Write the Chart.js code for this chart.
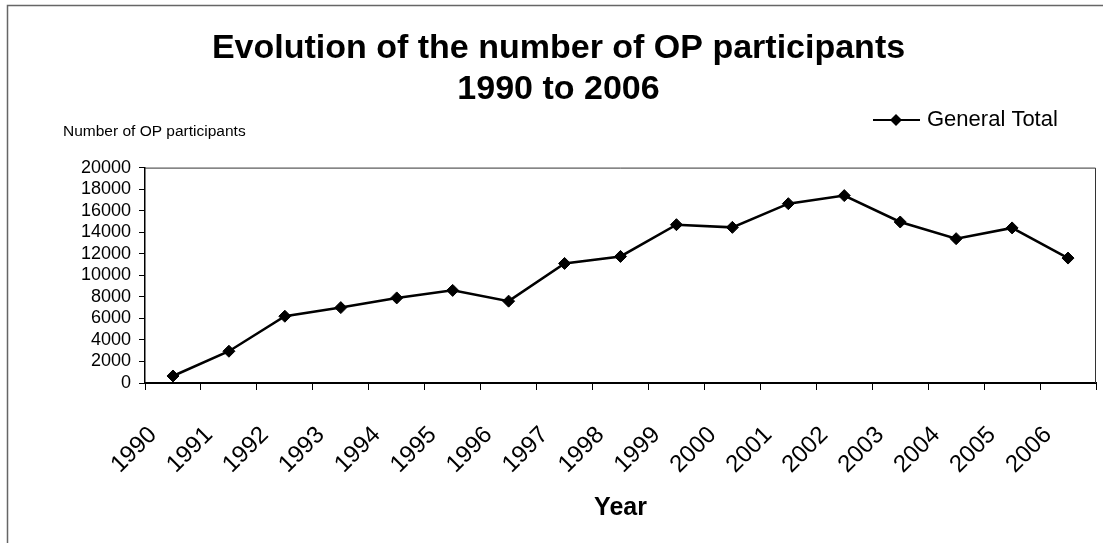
<!DOCTYPE html>
<html>
<head>
<meta charset="utf-8">
<script src="https://cdn.jsdelivr.net/npm/chart.js@4.4.1/dist/chart.umd.min.js"></script>
<style>
  html, body { margin: 0; padding: 0; background: #fff; }
</style>
</head>
<body>
<canvas id="op-participants-chart" width="1103" height="543"></canvas>
<script>
const years = ['1990', '1991', '1992', '1993', '1994', '1995', '1996', '1997', '1998',
               '1999', '2000', '2001', '2002', '2003', '2004', '2005', '2006'];
const generalTotal = [650, 2950, 6200, 7000, 7900, 8600, 7600, 11100, 11750,
                      14700, 14450, 16650, 17400, 14950, 13400, 14400, 11600];
const yMin = 0;
const yMax = 20000;
const yStep = 2000;

const FONT = '"Liberation Sans", Arial, sans-serif';
Chart.defaults.font.family = FONT;
Chart.defaults.color = '#000';

// frame, plot box, y caption and the legend (line + diamond)
const decor = {
    id: 'decor',
    beforeDraw(chart) {
        const ctx = chart.ctx;
        ctx.save();
        ctx.fillStyle = '#fff';
        ctx.fillRect(0, 0, chart.width, chart.height);
        ctx.restore();
    },
    afterDraw(chart) {
        const ctx = chart.ctx;
        const a = chart.chartArea;
        ctx.save();

        // outer frame, left and top
        ctx.strokeStyle = '#666';
        ctx.lineWidth = 1.5;
        ctx.beginPath();
        ctx.moveTo(7.5, chart.height);
        ctx.lineTo(7.5, 5.5);
        ctx.lineTo(chart.width, 5.5);
        ctx.stroke();

        // plot box top and right
        ctx.strokeStyle = '#333';
        ctx.lineWidth = 1;
        ctx.beginPath();
        ctx.moveTo(a.left, a.top + 0.5);
        ctx.lineTo(a.right - 0.5, a.top + 0.5);
        ctx.lineTo(a.right - 0.5, a.bottom);
        ctx.stroke();

        // y axis caption
        ctx.fillStyle = '#000';
        ctx.font = '15.5px ' + FONT;
        ctx.textAlign = 'left';
        ctx.textBaseline = 'middle';
        ctx.fillText('Number of OP participants', 63, 132);

        // legend
        const ds = chart.data.datasets[0];
        const ly = 120;
        const lx = a.right - 223;
        ctx.strokeStyle = ds.borderColor;
        ctx.lineWidth = 2;
        ctx.beginPath();
        ctx.moveTo(lx, ly);
        ctx.lineTo(lx + 47, ly);
        ctx.stroke();
        ctx.fillStyle = ds.backgroundColor;
        ctx.beginPath();
        ctx.moveTo(lx + 23, ly - 6);
        ctx.lineTo(lx + 29, ly);
        ctx.lineTo(lx + 23, ly + 6);
        ctx.lineTo(lx + 17, ly);
        ctx.closePath();
        ctx.fill();
        ctx.fillStyle = '#000';
        ctx.font = '22px ' + FONT;
        ctx.fillText(ds.label, lx + 54, ly);

        ctx.restore();
    }
};

new Chart(
    document.getElementById('op-participants-chart'),
    {
        type: 'line',
        data: {
            labels: years,
            datasets: [
                {
                    label: 'General Total',
                    data: generalTotal,
                    borderColor: '#000',
                    backgroundColor: '#000',
                    borderWidth: 2.5,
                    pointStyle: 'rectRot',
                    pointRadius: 6,
                    pointBackgroundColor: '#000',
                    pointBorderColor: '#000',
                    pointBorderWidth: 1,
                    tension: 0
                }
            ]
        },
        options: {
            responsive: false,
            animation: false,
            devicePixelRatio: 1,
            layout: {
                padding: { left: 20, right: 6, top: 0, bottom: 8 }
            },
            plugins: {
                legend: { display: false },
                tooltip: { enabled: false },
                title: {
                    display: true,
                    text: ['Evolution of the number of OP participants', '1990 to 2006'],
                    color: '#000',
                    font: { size: 34, weight: 'bold', lineHeight: 1.2 },
                    padding: { top: 28, bottom: 58 }
                }
            },
            scales: {
                x: {
                    offset: true,
                    grid: { offset: true, drawOnChartArea: false, color: '#000', tickLength: 7 },
                    border: { color: '#000', width: 2 },
                    ticks: {
                        color: '#000',
                        font: { size: 24 },
                        minRotation: 45,
                        maxRotation: 45,
                        autoSkip: false,
                        padding: 31,
                        labelOffset: -20
                    },
                    title: {
                        display: true,
                        text: 'Year',
                        color: '#000',
                        font: { size: 25, weight: 'bold' },
                        padding: { top: 0, bottom: 12 }
                    },
                    afterFit(scale) {
                        scale.height = 152;
                        scale.paddingLeft = 0;
                        scale.paddingRight = 0;
                    }
                },
                y: {
                    min: yMin,
                    max: yMax,
                    ticks: {
                        stepSize: yStep,
                        autoSkip: false,
                        color: '#000',
                        font: { size: 18 },
                        padding: 8,
                        callback: (v) => String(v)
                    },
                    grid: { drawOnChartArea: false, color: '#000', tickLength: 6 },
                    border: { color: '#000', width: 1.5 },
                    afterFit(scale) { scale.width = 125; }
                }
            }
        },
        plugins: [decor]
    }
);
</script>
</body>
</html>
